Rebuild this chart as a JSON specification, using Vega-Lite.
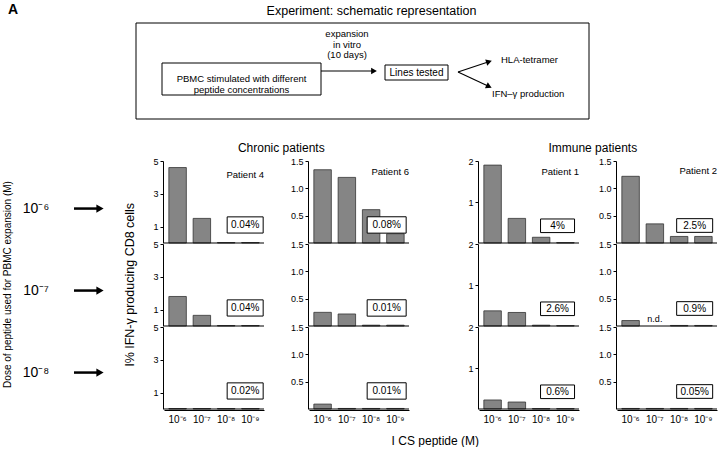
{
 "$schema": "https://vega.github.io/schema/vega-lite/v6.json",
 "padding": {"left": 2, "top": 3, "right": 0, "bottom": 0},
 "background": "white",
 "config": {
  "view": {"stroke": null},
  "font": "Liberation Sans",
  "axis": {"grid": false, "domainColor": "black", "tickColor": "black", "labelColor": "black", "titleColor": "black", "labelFont": "Liberation Sans", "titleFont": "Liberation Sans", "titleFontWeight": "normal"},
  "title": {"font": "Liberation Sans", "fontWeight": "normal", "color": "black"},
  "text": {"font": "Liberation Sans", "color": "black"}
 },
 "datasets": {
  "cells": [
   {"kind": "bar", "patient": "Patient 4", "dose": "10⁻⁶", "conc": "10⁻⁶", "value": 4.6},
   {"kind": "bar", "patient": "Patient 4", "dose": "10⁻⁶", "conc": "10⁻⁷", "value": 1.5},
   {"kind": "bar", "patient": "Patient 4", "dose": "10⁻⁶", "conc": "10⁻⁸", "value": 0.03},
   {"kind": "bar", "patient": "Patient 4", "dose": "10⁻⁶", "conc": "10⁻⁹", "value": 0.03},
   {"kind": "bar", "patient": "Patient 4", "dose": "10⁻⁷", "conc": "10⁻⁶", "value": 1.8},
   {"kind": "bar", "patient": "Patient 4", "dose": "10⁻⁷", "conc": "10⁻⁷", "value": 0.65},
   {"kind": "bar", "patient": "Patient 4", "dose": "10⁻⁷", "conc": "10⁻⁸", "value": 0.03},
   {"kind": "bar", "patient": "Patient 4", "dose": "10⁻⁷", "conc": "10⁻⁹", "value": 0.03},
   {"kind": "bar", "patient": "Patient 4", "dose": "10⁻⁸", "conc": "10⁻⁶", "value": 0.03},
   {"kind": "bar", "patient": "Patient 4", "dose": "10⁻⁸", "conc": "10⁻⁷", "value": 0.03},
   {"kind": "bar", "patient": "Patient 4", "dose": "10⁻⁸", "conc": "10⁻⁸", "value": 0.03},
   {"kind": "bar", "patient": "Patient 4", "dose": "10⁻⁸", "conc": "10⁻⁹", "value": 0.03},
   {"kind": "note", "patient": "Patient 4", "dose": "10⁻⁶", "label": "0.04%"},
   {"kind": "note", "patient": "Patient 4", "dose": "10⁻⁷", "label": "0.04%"},
   {"kind": "note", "patient": "Patient 4", "dose": "10⁻⁸", "label": "0.02%"},

   {"kind": "bar", "patient": "Patient 6", "dose": "10⁻⁶", "conc": "10⁻⁶", "value": 1.34},
   {"kind": "bar", "patient": "Patient 6", "dose": "10⁻⁶", "conc": "10⁻⁷", "value": 1.2},
   {"kind": "bar", "patient": "Patient 6", "dose": "10⁻⁶", "conc": "10⁻⁸", "value": 0.61},
   {"kind": "bar", "patient": "Patient 6", "dose": "10⁻⁶", "conc": "10⁻⁹", "value": 0.17},
   {"kind": "bar", "patient": "Patient 6", "dose": "10⁻⁷", "conc": "10⁻⁶", "value": 0.25},
   {"kind": "bar", "patient": "Patient 6", "dose": "10⁻⁷", "conc": "10⁻⁷", "value": 0.22},
   {"kind": "bar", "patient": "Patient 6", "dose": "10⁻⁷", "conc": "10⁻⁸", "value": 0.015},
   {"kind": "bar", "patient": "Patient 6", "dose": "10⁻⁷", "conc": "10⁻⁹", "value": 0.015},
   {"kind": "bar", "patient": "Patient 6", "dose": "10⁻⁸", "conc": "10⁻⁶", "value": 0.09},
   {"kind": "bar", "patient": "Patient 6", "dose": "10⁻⁸", "conc": "10⁻⁷", "value": 0.01},
   {"kind": "bar", "patient": "Patient 6", "dose": "10⁻⁸", "conc": "10⁻⁸", "value": 0.01},
   {"kind": "bar", "patient": "Patient 6", "dose": "10⁻⁸", "conc": "10⁻⁹", "value": 0.01},
   {"kind": "note", "patient": "Patient 6", "dose": "10⁻⁶", "label": "0.08%"},
   {"kind": "note", "patient": "Patient 6", "dose": "10⁻⁷", "label": "0.01%"},
   {"kind": "note", "patient": "Patient 6", "dose": "10⁻⁸", "label": "0.01%"},

   {"kind": "bar", "patient": "Patient 1", "dose": "10⁻⁶", "conc": "10⁻⁶", "value": 1.9},
   {"kind": "bar", "patient": "Patient 1", "dose": "10⁻⁶", "conc": "10⁻⁷", "value": 0.6},
   {"kind": "bar", "patient": "Patient 1", "dose": "10⁻⁶", "conc": "10⁻⁸", "value": 0.14},
   {"kind": "bar", "patient": "Patient 1", "dose": "10⁻⁶", "conc": "10⁻⁹", "value": 0.01},
   {"kind": "bar", "patient": "Patient 1", "dose": "10⁻⁷", "conc": "10⁻⁶", "value": 0.37},
   {"kind": "bar", "patient": "Patient 1", "dose": "10⁻⁷", "conc": "10⁻⁷", "value": 0.33},
   {"kind": "bar", "patient": "Patient 1", "dose": "10⁻⁷", "conc": "10⁻⁸", "value": 0.02},
   {"kind": "bar", "patient": "Patient 1", "dose": "10⁻⁷", "conc": "10⁻⁹", "value": 0.01},
   {"kind": "bar", "patient": "Patient 1", "dose": "10⁻⁸", "conc": "10⁻⁶", "value": 0.22},
   {"kind": "bar", "patient": "Patient 1", "dose": "10⁻⁸", "conc": "10⁻⁷", "value": 0.17},
   {"kind": "bar", "patient": "Patient 1", "dose": "10⁻⁸", "conc": "10⁻⁸", "value": 0.01},
   {"kind": "bar", "patient": "Patient 1", "dose": "10⁻⁸", "conc": "10⁻⁹", "value": 0.01},
   {"kind": "note", "patient": "Patient 1", "dose": "10⁻⁶", "label": "4%"},
   {"kind": "note", "patient": "Patient 1", "dose": "10⁻⁷", "label": "2.6%"},
   {"kind": "note", "patient": "Patient 1", "dose": "10⁻⁸", "label": "0.6%"},

   {"kind": "bar", "patient": "Patient 2", "dose": "10⁻⁶", "conc": "10⁻⁶", "value": 1.22},
   {"kind": "bar", "patient": "Patient 2", "dose": "10⁻⁶", "conc": "10⁻⁷", "value": 0.35},
   {"kind": "bar", "patient": "Patient 2", "dose": "10⁻⁶", "conc": "10⁻⁸", "value": 0.12},
   {"kind": "bar", "patient": "Patient 2", "dose": "10⁻⁶", "conc": "10⁻⁹", "value": 0.12},
   {"kind": "bar", "patient": "Patient 2", "dose": "10⁻⁷", "conc": "10⁻⁶", "value": 0.1},
   {"kind": "bar", "patient": "Patient 2", "dose": "10⁻⁷", "conc": "10⁻⁷", "value": null, "note": "n.d."},
   {"kind": "bar", "patient": "Patient 2", "dose": "10⁻⁷", "conc": "10⁻⁸", "value": 0.01},
   {"kind": "bar", "patient": "Patient 2", "dose": "10⁻⁷", "conc": "10⁻⁹", "value": 0.01},
   {"kind": "bar", "patient": "Patient 2", "dose": "10⁻⁸", "conc": "10⁻⁶", "value": 0.01},
   {"kind": "bar", "patient": "Patient 2", "dose": "10⁻⁸", "conc": "10⁻⁷", "value": 0.01},
   {"kind": "bar", "patient": "Patient 2", "dose": "10⁻⁸", "conc": "10⁻⁸", "value": 0.01},
   {"kind": "bar", "patient": "Patient 2", "dose": "10⁻⁸", "conc": "10⁻⁹", "value": 0.01},
   {"kind": "note", "patient": "Patient 2", "dose": "10⁻⁶", "label": "2.5%"},
   {"kind": "note", "patient": "Patient 2", "dose": "10⁻⁷", "label": "0.9%"},
   {"kind": "note", "patient": "Patient 2", "dose": "10⁻⁸", "label": "0.05%"}
  ]
 },
 "spacing": 21,
 "vconcat": [
  {
   "width": 573, "height": 116,
   "data": {"values": [{"item": "diagram"}]},
   "layer": [
    {"mark": {"type": "rect", "fill": "white", "stroke": "black", "strokeWidth": 1},
     "encoding": {"x": {"datum": 120, "scale": {"domain": [0, 573], "nice": false, "zero": false}, "axis": null}, "x2": {"datum": 573},
                  "y": {"datum": 20, "scale": {"domain": [0, 116], "nice": false, "zero": false, "reverse": true}, "axis": null}, "y2": {"datum": 116}}},
    {"mark": {"type": "rect", "fill": "white", "stroke": "black", "strokeWidth": 1},
     "encoding": {"x": {"datum": 146, "axis": null}, "x2": {"datum": 305}, "y": {"datum": 60, "axis": null}, "y2": {"datum": 92}}},
    {"mark": {"type": "rect", "fill": "white", "stroke": "black", "strokeWidth": 1},
     "encoding": {"x": {"datum": 369, "axis": null}, "x2": {"datum": 432}, "y": {"datum": 62, "axis": null}, "y2": {"datum": 77}}},
    {"mark": {"type": "text", "text": "Experiment: schematic representation", "fontSize": 12.5, "align": "center", "baseline": "middle"},
     "encoding": {"x": {"datum": 355.5, "axis": null}, "y": {"datum": 8, "axis": null}}},
    {"mark": {"type": "text", "text": ["PBMC stimulated with different", "peptide concentrations"], "fontSize": 9.5, "lineHeight": 10.5, "align": "center", "baseline": "middle"},
     "encoding": {"x": {"datum": 225.5, "axis": null}, "y": {"datum": 76, "axis": null}}},
    {"mark": {"type": "text", "text": ["expansion", "in vitro", "(10 days)"], "fontSize": 9.5, "lineHeight": 10.5, "align": "center", "baseline": "middle"},
     "encoding": {"x": {"datum": 331, "axis": null}, "y": {"datum": 31, "axis": null}}},
    {"mark": {"type": "text", "text": "Lines tested", "fontSize": 10, "align": "center", "baseline": "middle"},
     "encoding": {"x": {"datum": 400.5, "axis": null}, "y": {"datum": 69.5, "axis": null}}},
    {"mark": {"type": "text", "text": "HLA-tetramer", "fontSize": 9.5, "align": "left", "baseline": "middle"},
     "encoding": {"x": {"datum": 485, "axis": null}, "y": {"datum": 57, "axis": null}}},
    {"mark": {"type": "text", "text": "IFN–γ production", "fontSize": 9.5, "align": "left", "baseline": "middle"},
     "encoding": {"x": {"datum": 476, "axis": null}, "y": {"datum": 91, "axis": null}}},
    {"mark": {"type": "text", "text": "A", "fontSize": 14, "fontWeight": "bold", "align": "center", "baseline": "middle"},
     "encoding": {"x": {"datum": -3, "axis": null}, "y": {"datum": 7, "axis": null}}},
    {"mark": {"type": "rule", "color": "black", "strokeWidth": 1.2},
     "encoding": {"x": {"datum": 305, "axis": null}, "x2": {"datum": 356}, "y": {"datum": 68, "axis": null}}},
    {"mark": {"type": "rule", "color": "black", "strokeWidth": 1.2},
     "encoding": {"x": {"datum": 442, "axis": null}, "x2": {"datum": 472}, "y": {"datum": 69, "axis": null}, "y2": {"datum": 59}}},
    {"mark": {"type": "rule", "color": "black", "strokeWidth": 1.2},
     "encoding": {"x": {"datum": 442, "axis": null}, "x2": {"datum": 472}, "y": {"datum": 69, "axis": null}, "y2": {"datum": 83}}},
    {"mark": {"type": "point", "shape": "triangle-right", "filled": true, "color": "black", "opacity": 1, "size": 45},
     "encoding": {"x": {"datum": 358, "axis": null}, "y": {"datum": 68, "axis": null}}},
    {"mark": {"type": "point", "shape": "triangle-right", "filled": true, "color": "black", "opacity": 1, "size": 45, "angle": -18},
     "encoding": {"x": {"datum": 473, "axis": null}, "y": {"datum": 58.7, "axis": null}}},
    {"mark": {"type": "point", "shape": "triangle-right", "filled": true, "color": "black", "opacity": 1, "size": 45, "angle": 25},
     "encoding": {"x": {"datum": 473, "axis": null}, "y": {"datum": 83.5, "axis": null}}}
   ]
  },
  {
   "spacing": 16,
   "hconcat": [
    {
     "width": 100, "height": 246,
     "title": {"text": " ", "fontSize": 12, "offset": 7},
     "data": {"values": [{"dose": "10⁻⁶"}, {"dose": "10⁻⁷"}, {"dose": "10⁻⁸"}]},
     "layer": [
      {"mark": {"type": "text", "fontSize": 14, "align": "center", "baseline": "middle"},
       "encoding": {
        "x": {"datum": 20, "scale": {"domain": [0, 100], "nice": false, "zero": false}, "axis": null},
        "y": {"field": "dose", "type": "nominal", "sort": ["10⁻⁶", "10⁻⁷", "10⁻⁸"], "bandPosition": 0.58, "scale": {"type": "band", "paddingInner": 0, "paddingOuter": 0},
              "axis": {"title": "Dose of peptide used for PBMC expansion (M)", "orient": "left", "labels": false, "ticks": false, "domain": false, "titleFontSize": 10, "titlePadding": 4}},
        "text": {"field": "dose"}}},
      {"mark": {"type": "rule", "strokeWidth": 2.5, "color": "black"},
       "encoding": {
        "x": {"datum": 58, "axis": null}, "x2": {"datum": 82},
        "y": {"field": "dose", "type": "nominal", "sort": ["10⁻⁶", "10⁻⁷", "10⁻⁸"], "bandPosition": 0.58,
              "axis": {"title": "l% IFN-γ producing CD8 cells", "orient": "right", "labels": false, "ticks": false, "domain": false, "titleFontSize": 12.5, "titlePadding": 20, "titleAngle": -90}}}},
      {"mark": {"type": "point", "shape": "triangle-right", "filled": true, "color": "black", "opacity": 1, "size": 70},
       "encoding": {
        "x": {"datum": 84, "axis": null},
        "y": {"field": "dose", "type": "nominal", "sort": ["10⁻⁶", "10⁻⁷", "10⁻⁸"], "bandPosition": 0.58, "axis": null}}}
     ],
     "resolve": {"axis": {"y": "independent"}}
    },
    {
     "spacing": 57,
     "title": {"text": "I CS peptide (M)", "orient": "bottom", "anchor": "middle", "fontSize": 12, "offset": 12},
     "hconcat": [
      {
       "spacing": 24,
       "title": {"text": "Chronic patients", "anchor": "middle", "fontSize": 12, "offset": 2},
       "hconcat": [
        {
         "data": {"name": "cells"},
         "transform": [{"filter": "datum.patient == 'Patient 4'"}],
         "facet": {"row": {"field": "dose", "type": "nominal", "sort": ["10⁻⁶", "10⁻⁷", "10⁻⁸"], "header": null}},
         "spacing": {"row": 0},
         "spec": {
          "width": 100, "height": 82,
          "layer": [
           {"transform": [{"filter": "datum.kind == 'bar'"}],
            "mark": {"type": "bar", "fill": "#858585", "stroke": "#333333", "strokeWidth": 0.8},
            "encoding": {
             "x": {"field": "conc", "type": "nominal", "sort": ["10⁻⁶", "10⁻⁷", "10⁻⁸", "10⁻⁹"], "scale": {"paddingInner": 0.28, "paddingOuter": 0.2},
                   "axis": {"title": null, "labelAngle": 0, "ticks": false, "labelFontSize": 10, "labelPadding": 4}},
             "y": {"field": "value", "type": "quantitative", "scale": {"domain": [0, 5], "nice": false},
                   "axis": {"title": null, "values": [1, 3, 5], "labelOverlap": false, "tickSize": 3, "labelFontSize": 9, "labelPadding": 2}}}},
           {"transform": [{"filter": "datum.kind == 'bar' && datum.conc == '10⁻⁶'"}],
            "mark": {"type": "rule", "color": "black", "strokeWidth": 1.2}, "encoding": {"y": {"datum": 0}}},
           {"transform": [{"filter": "datum.kind == 'note'"}],
            "mark": {"type": "point", "shape": "M-1,-0.45H1V0.45H-1Z", "filled": true, "fill": "white", "stroke": "black", "strokeWidth": 1, "opacity": 1, "size": 1296},
            "encoding": {"x": {"datum": "10⁻⁹", "bandPosition": 0.2}, "y": {"datum": 1.1}}},
           {"transform": [{"filter": "datum.kind == 'note'"}],
            "mark": {"type": "text", "fontSize": 10, "align": "center", "baseline": "middle"},
            "encoding": {"x": {"datum": "10⁻⁹", "bandPosition": 0.2}, "y": {"datum": 1.1}, "text": {"field": "label"}}},
           {"transform": [{"filter": "datum.kind == 'note' && datum.dose == '10⁻⁶'"}],
            "mark": {"type": "text", "fontSize": 9.5, "align": "right", "baseline": "middle"},
            "encoding": {"x": {"value": "width"}, "y": {"datum": 4.15}, "text": {"field": "patient"}}}
          ]
         }
        },
        {
         "data": {"name": "cells"},
         "transform": [{"filter": "datum.patient == 'Patient 6'"}],
         "facet": {"row": {"field": "dose", "type": "nominal", "sort": ["10⁻⁶", "10⁻⁷", "10⁻⁸"], "header": null}},
         "spacing": {"row": 0},
         "spec": {
          "width": 100, "height": 82,
          "layer": [
           {"transform": [{"filter": "datum.kind == 'bar'"}],
            "mark": {"type": "bar", "fill": "#858585", "stroke": "#333333", "strokeWidth": 0.8},
            "encoding": {
             "x": {"field": "conc", "type": "nominal", "sort": ["10⁻⁶", "10⁻⁷", "10⁻⁸", "10⁻⁹"], "scale": {"paddingInner": 0.28, "paddingOuter": 0.2},
                   "axis": {"title": null, "labelAngle": 0, "ticks": false, "labelFontSize": 10, "labelPadding": 4}},
             "y": {"field": "value", "type": "quantitative", "scale": {"domain": [0, 1.5], "nice": false},
                   "axis": {"title": null, "values": [0.5, 1, 1.5], "format": ".1f", "labelOverlap": false, "tickSize": 3, "labelFontSize": 9, "labelPadding": 2}}}},
           {"transform": [{"filter": "datum.kind == 'bar' && datum.conc == '10⁻⁶'"}],
            "mark": {"type": "rule", "color": "black", "strokeWidth": 1.2}, "encoding": {"y": {"datum": 0}}},
           {"transform": [{"filter": "datum.kind == 'note'"}],
            "mark": {"type": "point", "shape": "M-1,-0.42H1V0.42H-1Z", "filled": true, "fill": "white", "stroke": "black", "strokeWidth": 1, "opacity": 1, "size": 1521},
            "encoding": {"x": {"datum": "10⁻⁹", "bandPosition": 0.0}, "y": {"datum": 0.33}}},
           {"transform": [{"filter": "datum.kind == 'note'"}],
            "mark": {"type": "text", "fontSize": 10, "align": "center", "baseline": "middle"},
            "encoding": {"x": {"datum": "10⁻⁹", "bandPosition": 0.0}, "y": {"datum": 0.33}, "text": {"field": "label"}}},
           {"transform": [{"filter": "datum.kind == 'note' && datum.dose == '10⁻⁶'"}],
            "mark": {"type": "text", "fontSize": 9.5, "align": "right", "baseline": "middle"},
            "encoding": {"x": {"value": "width"}, "y": {"datum": 1.3}, "text": {"field": "patient"}}}
          ]
         }
        }
       ]
      },
      {
       "spacing": 18,
       "title": {"text": "Immune patients", "anchor": "middle", "fontSize": 12, "offset": 2},
       "hconcat": [
        {
         "data": {"name": "cells"},
         "transform": [{"filter": "datum.patient == 'Patient 1'"}],
         "facet": {"row": {"field": "dose", "type": "nominal", "sort": ["10⁻⁶", "10⁻⁷", "10⁻⁸"], "header": null}},
         "spacing": {"row": 0},
         "spec": {
          "width": 100, "height": 82,
          "layer": [
           {"transform": [{"filter": "datum.kind == 'bar'"}],
            "mark": {"type": "bar", "fill": "#858585", "stroke": "#333333", "strokeWidth": 0.8},
            "encoding": {
             "x": {"field": "conc", "type": "nominal", "sort": ["10⁻⁶", "10⁻⁷", "10⁻⁸", "10⁻⁹"], "scale": {"paddingInner": 0.28, "paddingOuter": 0.2},
                   "axis": {"title": null, "labelAngle": 0, "ticks": false, "labelFontSize": 10, "labelPadding": 4}},
             "y": {"field": "value", "type": "quantitative", "scale": {"domain": [0, 2], "nice": false},
                   "axis": {"title": null, "values": [1, 2], "format": "d", "labelOverlap": false, "tickSize": 3, "labelFontSize": 9, "labelPadding": 2}}}},
           {"transform": [{"filter": "datum.kind == 'bar' && datum.conc == '10⁻⁶'"}],
            "mark": {"type": "rule", "color": "black", "strokeWidth": 1.2}, "encoding": {"y": {"datum": 0}}},
           {"transform": [{"filter": "datum.kind == 'note'"}],
            "mark": {"type": "point", "shape": "M-1,-0.4H1V0.4H-1Z", "filled": true, "fill": "white", "stroke": "black", "strokeWidth": 1, "opacity": 1, "size": 1156},
            "encoding": {"x": {"datum": "10⁻⁹", "bandPosition": 0.05}, "y": {"datum": 0.42}}},
           {"transform": [{"filter": "datum.kind == 'note'"}],
            "mark": {"type": "text", "fontSize": 10, "align": "center", "baseline": "middle"},
            "encoding": {"x": {"datum": "10⁻⁹", "bandPosition": 0.05}, "y": {"datum": 0.42}, "text": {"field": "label"}}},
           {"transform": [{"filter": "datum.kind == 'note' && datum.dose == '10⁻⁶'"}],
            "mark": {"type": "text", "fontSize": 9.5, "align": "right", "baseline": "middle"},
            "encoding": {"x": {"value": "width"}, "y": {"datum": 1.73}, "text": {"field": "patient"}}}
          ]
         }
        },
        {
         "data": {"name": "cells"},
         "transform": [{"filter": "datum.patient == 'Patient 2'"}],
         "facet": {"row": {"field": "dose", "type": "nominal", "sort": ["10⁻⁶", "10⁻⁷", "10⁻⁸"], "header": null}},
         "spacing": {"row": 0},
         "spec": {
          "width": 100, "height": 82,
          "layer": [
           {"transform": [{"filter": "datum.kind == 'bar'"}],
            "mark": {"type": "bar", "fill": "#858585", "stroke": "#333333", "strokeWidth": 0.8},
            "encoding": {
             "x": {"field": "conc", "type": "nominal", "sort": ["10⁻⁶", "10⁻⁷", "10⁻⁸", "10⁻⁹"], "scale": {"paddingInner": 0.28, "paddingOuter": 0.2},
                   "axis": {"title": null, "labelAngle": 0, "ticks": false, "labelFontSize": 10, "labelPadding": 4}},
             "y": {"field": "value", "type": "quantitative", "scale": {"domain": [0, 1.5], "nice": false},
                   "axis": {"title": null, "values": [0.5, 1, 1.5], "format": ".1f", "labelOverlap": false, "tickSize": 3, "labelFontSize": 9, "labelPadding": 2}}}},
           {"transform": [{"filter": "datum.kind == 'bar' && datum.conc == '10⁻⁶'"}],
            "mark": {"type": "rule", "color": "black", "strokeWidth": 1.2}, "encoding": {"y": {"datum": 0}}},
           {"transform": [{"filter": "datum.kind == 'bar' && datum.value == null"}],
            "mark": {"type": "text", "fontSize": 9, "align": "center", "baseline": "bottom", "dy": -2},
            "encoding": {"x": {"field": "conc", "type": "nominal"}, "y": {"datum": 0}, "text": {"field": "note"}}},
           {"transform": [{"filter": "datum.kind == 'note'"}],
            "mark": {"type": "point", "shape": "M-1,-0.38H1V0.38H-1Z", "filled": true, "fill": "white", "stroke": "black", "strokeWidth": 1, "opacity": 1, "size": 1296},
            "encoding": {"x": {"datum": "10⁻⁹", "bandPosition": 0.0}, "y": {"datum": 0.32}}},
           {"transform": [{"filter": "datum.kind == 'note'"}],
            "mark": {"type": "text", "fontSize": 10, "align": "center", "baseline": "middle"},
            "encoding": {"x": {"datum": "10⁻⁹", "bandPosition": 0.0}, "y": {"datum": 0.32}, "text": {"field": "label"}}},
           {"transform": [{"filter": "datum.kind == 'note' && datum.dose == '10⁻⁶'"}],
            "mark": {"type": "text", "fontSize": 9.5, "align": "right", "baseline": "middle"},
            "encoding": {"x": {"value": "width"}, "y": {"datum": 1.32}, "text": {"field": "patient"}}}
          ]
         }
        }
       ]
      }
     ]
    }
   ]
  }
 ]
}
